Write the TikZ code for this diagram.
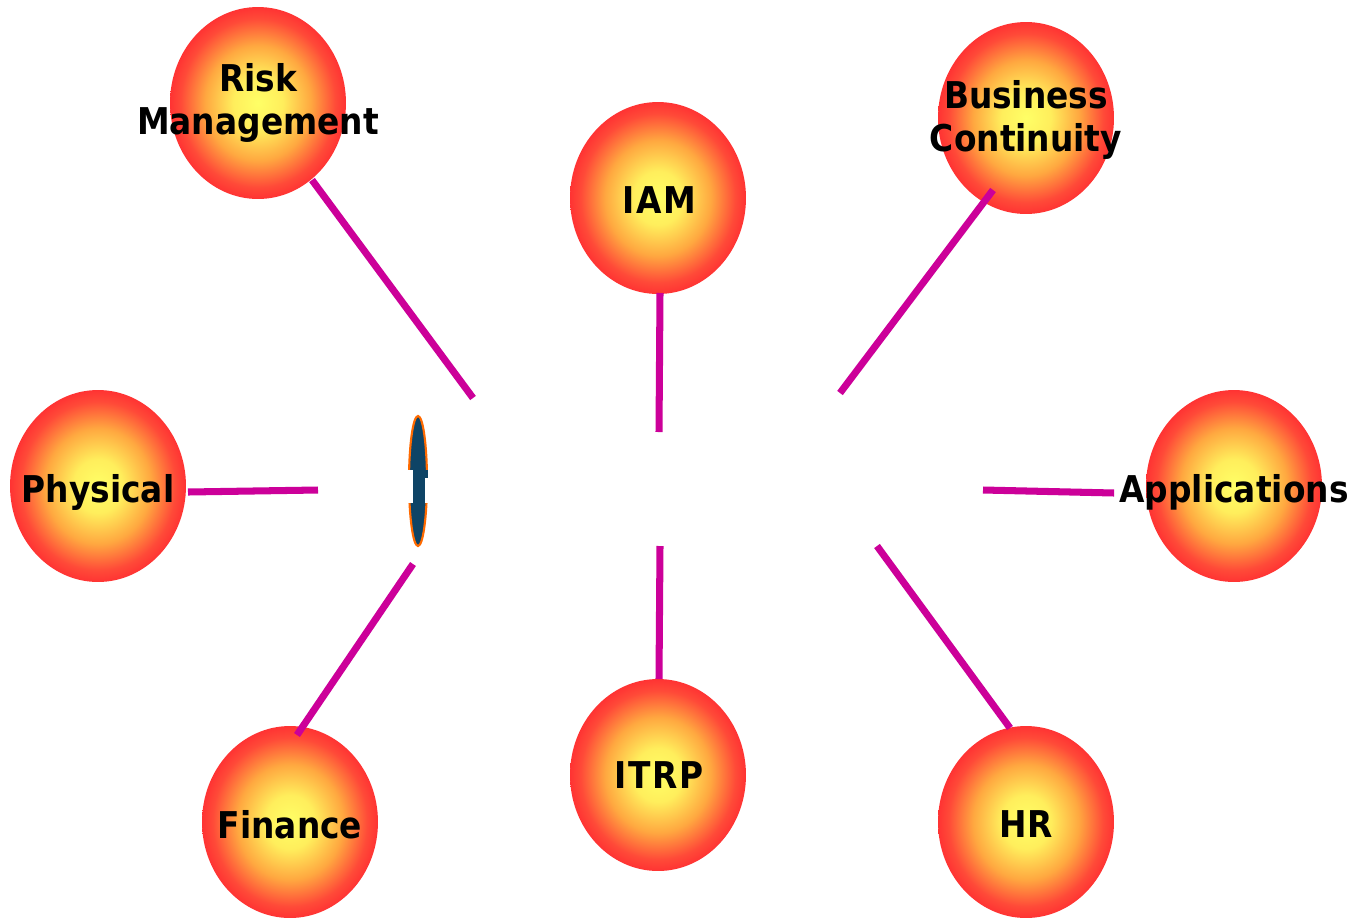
\documentclass[tikz,border=0pt]{standalone}
\usepackage{fontspec}
\setmainfont{DejaVu Sans}
\newfontfamily\topicfont{DejaVu Sans}[FakeStretch=0.89]
\usetikzlibrary{shapes.geometric,calc}
\definecolor{ballin}{HTML}{FFFF66}
\definecolor{ballinner}{HTML}{FFEE5C}
\definecolor{ballmid}{HTML}{FFA840}
\definecolor{ballrim}{HTML}{FF4A38}
\definecolor{ballout}{HTML}{FF3333}
\definecolor{spoke}{HTML}{CC0099}
\definecolor{capfill}{HTML}{0E4466}
\definecolor{capedge}{HTML}{FF6A00}
\pgfdeclareradialshading{ball}{\pgfpoint{0bp}{0bp}}{color(0bp)=(ballin); color(7bp)=(ballinner); color(15bp)=(ballmid); color(22bp)=(ballrim); color(25bp)=(ballout); color(50bp)=(ballout)}
\tikzset{
  topic/.style={ellipse, minimum width=3.52cm, minimum height=3.84cm, inner sep=0pt, shading=ball},
  topictext/.style={inner sep=0pt, align=center, text=black,
    font=\topicfont\bfseries\fontsize{21}{24.4}\selectfont},
  spokeline/.style={draw=spoke, line width=4pt}
}
\begin{document}
\begin{tikzpicture}[x=0.02cm, y=-0.02cm]
  \useasboundingbox (0,0) rectangle (1359,917);
  \fill[white] (0,0) rectangle (1359,917);

  % topic balls
  \node[topic] (risk) at (258,103) {};
  \node[topic] (iam)  at (658,198) {};
  \node[topic] (bc)   at (1026,118) {};
  \node[topic] (phys) at (98,486) {};
  \node[topic] (app)  at (1234,486) {};
  \node[topic] (fin)  at (290,822) {};
  \node[topic] (itrp) at (658,775) {};
  \node[topic] (hr)   at (1026,822) {};

  % labels
  \node[topictext] (risk-t) at (258,103) {Risk\\Management};
  \node[topictext, text depth=0pt] (iam-t) at (659,200) {I\kern1ptA\kern1ptM};
  \node[topictext] (bc-t) at (1026,120) {Business\\Continuity};
  \node[topictext, text depth=0pt] (phys-t) at (98,488) {Physical};
  \node[topictext, text depth=0pt] (app-t) at (1234,488) {Applications};
  \node[topictext, text depth=0pt] (fin-t) at (290,824) {Finance};
  \node[topictext, text depth=0pt] (itrp-t) at (659,775) {I\kern1ptT\kern1ptR\kern1ptP};
  \node[topictext, text depth=0pt] (hr-t) at (1026,824) {HR};

  % free ends of the spokes
  \coordinate (c1) at (473,398);
  \coordinate (c2) at (659,432);
  \coordinate (c3) at (840,393);
  \coordinate (c4) at (318,490);
  \coordinate (c5) at (983,490);
  \coordinate (c6) at (413,564);
  \coordinate (c7) at (660,546);
  \coordinate (c8) at (877,546);

  % spokes
  \draw[spokeline] ($(risk)+(54,77)$) -- (c1);
  \draw[spokeline] ($(iam)+(2,95)$) -- (c2);
  \draw[spokeline] ($(bc)+(-33,72)$) -- (c3);
  \draw[spokeline] ($(phys)+(90,6)$) -- (c4);
  \draw[spokeline] ($(app-t.west)+(-5,5)$) -- (c5);
  \draw[spokeline] ($(fin)+(7,-87)$) -- (c6);
  \draw[spokeline] ($(itrp)+(1,-96)$) -- (c7);
  \draw[spokeline] ($(hr)+(-16,-94)$) -- (c8);

  % small capsule mark
  \fill[capfill, draw=capedge, line width=1.2pt] (418,481) ellipse [x radius=9, y radius=65];
  \fill[white] (404,470) rectangle (432,503);
  \fill[capfill] (413,470) rectangle (425,503);
  \fill[capfill] (424,470) rectangle (428,478);
\end{tikzpicture}
\end{document}
